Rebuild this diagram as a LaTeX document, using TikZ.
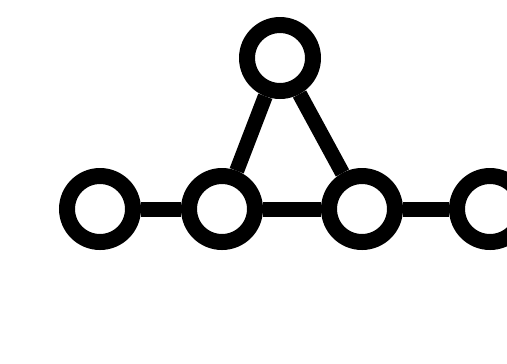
\documentclass[tikz,border=0pt]{standalone}
\usetikzlibrary{positioning}
\begin{document}
\begin{tikzpicture}[x=0.02cm, y=-0.02cm]
\tikzstyle{vertex}=[circle, draw, line width=0.32cm, minimum size=1.32cm, inner sep=0pt, fill=white]
\tikzstyle{link}=[line width=0.3cm]
\useasboundingbox (0,0) rectangle (507,363);
\node[vertex] (top) at (280,58) {};
\node[vertex] (v1) at (100,209) {}; \node[vertex] (v2) at (222,209) {}; \node[vertex] (v3) at (362,209) {}; \node[vertex] (v4) at (490,209) {};
\draw[link] (v1) -- (v2); \draw[link] (v2) -- (v3); \draw[link] (v3) -- (v4);
\draw[link] (top) -- (v2); \draw[link] (top) -- (v3);
\end{tikzpicture}
\end{document}
